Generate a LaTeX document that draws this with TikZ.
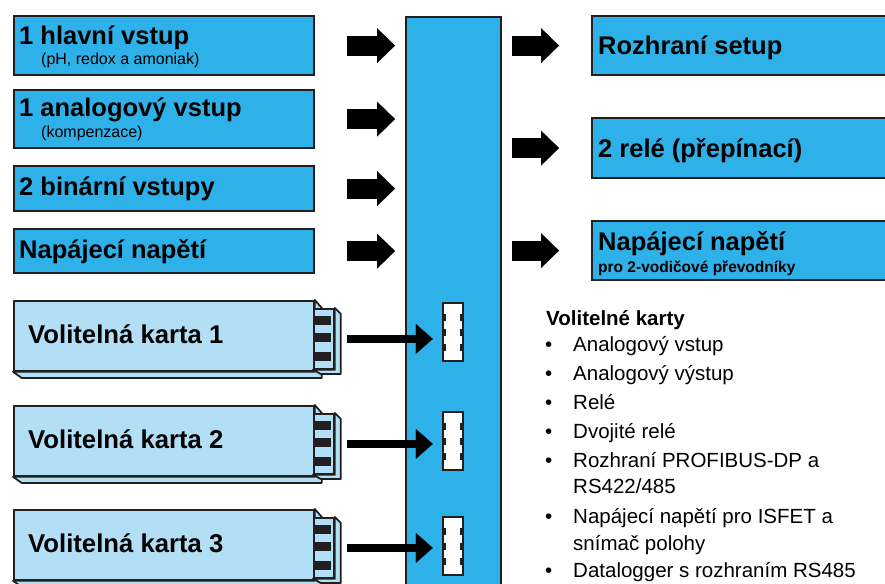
\documentclass[tikz,border=0pt]{standalone}
\usepackage{fontspec}
\setmainfont{Liberation Sans}
\usetikzlibrary{arrows.meta,calc}
\definecolor{modra}{RGB}{46,177,232}
\definecolor{svetla}{RGB}{178,223,246}
\definecolor{obrys}{RGB}{35,31,32}
\tikzset{
  box/.style={draw=obrys,line width=2.2pt,fill=modra,anchor=north west,inner sep=0pt},
  card/.style={draw=obrys,line width=1.8pt,fill=svetla,line join=round,inner sep=0pt},
  slot/.style={draw=obrys,line width=2.5pt,fill=white,inner sep=0pt},
  popis/.style={anchor=base west,inner sep=0pt,font=\fontsize{25.5}{30}\selectfont\bfseries},
  pozn/.style={anchor=base west,inner sep=0pt,font=\fontsize{16}{18}\selectfont},
  polozka/.style={anchor=base west,inner sep=0pt,font=\fontsize{20.5}{24}\selectfont},
  sipka/.style={line width=20pt,-{Triangle[length=18pt,width=35pt,line width=0.1pt]}},
  karta/.style={line width=8pt,-{Triangle[length=17pt,width=30pt,line width=0.1pt]}}
}
\begin{document}
\begin{tikzpicture}[x=1pt,y=-1pt]
\useasboundingbox (0,0) rectangle (885,583);
\clip (0,0) rectangle (885,583);
% vstupy
\node[box,minimum width=300pt,minimum height=59pt] (in1) at (13,15) {};
\node[box,minimum width=300pt,minimum height=58pt] (in2) at (13,89) {};
\node[box,minimum width=300pt,minimum height=45pt] (in3) at (13,165) {};
\node[box,minimum width=300pt,minimum height=44pt] (in4) at (13,228) {};
\node[popis] at (19,45) {1 hlavní vstup};
\node[pozn] at (41,65) {(pH, redox a amoniak)};
\node[popis] at (19,117) {1 analogový vstup};
\node[pozn] at (41,137) {(kompenzace)};
\node[popis] at (19,195) {2 binární vstupy};
\node[popis] at (19,258) {Napájecí napětí};
% sbernice
\node[box,line width=2pt,minimum width=95pt,minimum height=600pt] (bus) at (405,16) {};
% vystupy
\node[box,minimum width=310pt,minimum height=59pt] (out1) at (591,15) {};
\node[box,minimum width=310pt,minimum height=60pt] (out2) at (591,117) {};
\node[box,minimum width=310pt,minimum height=59pt] (out3) at (591,220) {};
\node[popis] at (598,55) {Rozhraní setup};
\node[popis] at (598,157) {2 relé (přepínací)};
\node[popis] at (598,250) {Napájecí napětí};
\node[pozn,font=\fontsize{15.5}{18}\selectfont\bfseries] at (598,272) {pro 2-vodičové převodníky};
%
\foreach \n in {1,...,4}
  \draw[sipka,shorten <=32pt,shorten >=10pt] (in\n.east) -- (in\n.east -| bus.west);
\foreach \n in {1,2,3}
  \draw[sipka,shorten <=10pt,shorten >=32pt] (out\n.west -| bus.east) -- (out\n.west);
% volitelne karty
\foreach \n/\y/\s in {1/300/332,2/405/441,3/509/546} {
  \node[card,anchor=north west,minimum width=300pt,minimum height=70pt] (card\n) at (13,\y) {};
  \draw[card] (card\n.north east) -- ++(7,8) -- ++(0,70) -- ++(-300,0)
    -- (card\n.south west) -- (card\n.south east) -- cycle;
  \node[card,anchor=north west,minimum width=20pt,minimum height=60pt] (kon\n) at (313,\y+8) {};
  \draw[card] (kon\n.north east) -- ++(6,6) -- ++(0,60) -- ++(-20,0)
    -- (kon\n.south west) -- (kon\n.south east) -- cycle;
  \foreach \d in {-18,-1,18}
    \fill[obrys] ($(kon\n.west)+(0,\d-4.5)$) rectangle ++(18,9);
  \node[popis,font=\fontsize{25.7}{30}\selectfont\bfseries] at (28,\y+43) {Volitelná karta \n};
  \node[slot,minimum width=20pt,minimum height=58pt] (slot\n) at (453,\s) {};
  \foreach \d in {-15,0,15} {
    \fill[obrys] ($(slot\n.west)+(0,\d-3.5)$) rectangle ++(4,7);
    \fill[obrys] ($(slot\n.east)+(-4,\d-3.5)$) rectangle ++(4,7);
  }
  \draw[karta,shorten <=12pt,shorten >=9pt] (kon\n.east) -- (kon\n.east -| slot\n.west);
}
% seznam
\node[polozka,font=\fontsize{20.5}{24}\selectfont\bfseries] at (546,325) {Volitelné karty};
\foreach \y/\t in {351/Analogový vstup,380/Analogový výstup,409/Relé,438/Dvojité relé,
  467/Rozhraní PROFIBUS-DP a,523/Napájecí napětí pro ISFET a,577/Datalogger s rozhraním RS485} {
  \node[polozka] at (545,\y) {•};
  \node[polozka] at (573,\y) {\t};
}
\node[polozka] at (573,493) {RS422/485};
\node[polozka] at (573,550) {snímač polohy};
\end{tikzpicture}
\end{document}
